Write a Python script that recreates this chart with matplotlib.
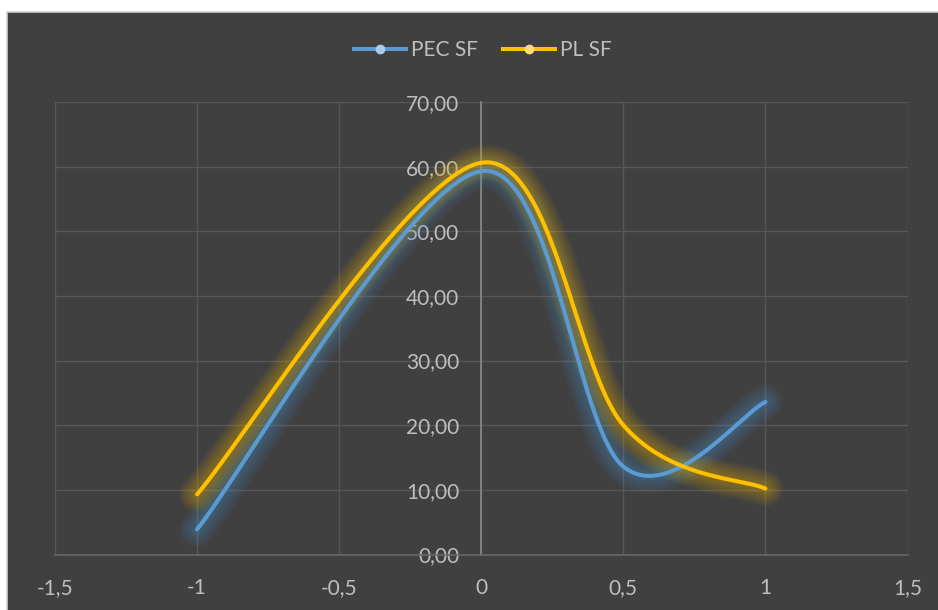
import matplotlib
matplotlib.use("Agg")
import matplotlib.pyplot as plt
from matplotlib.lines import Line2D
from matplotlib.patches import Rectangle
import numpy as np

plt.rcParams['font.family'] = ['Lato', 'DejaVu Sans']

x_vals = [-1, 0, 0.5, 1]
pec_sf = [3.9, 59.3, 13.6, 23.6]
pl_sf = [9.3, 60.6, 20.0, 10.2]

x_ticks = [-1.5, -1, -0.5, 0, 0.5, 1, 1.5]
x_tick_labels = ["-1,5", "-1", "-0,5", "0", "0,5", "1", "1,5"]
y_ticks = [0, 10, 20, 30, 40, 50, 60, 70]
y_tick_labels = [f"{v:.2f}".replace(".", ",") for v in y_ticks]

BG = "#404040"
TXT = "#bfbfbf"
BLUE = "#5b9bd5"
YELLOW = "#ffc000"


def smooth(xs, ys, n=80):
    # cubic bezier through the points, spreadsheet-style tangents
    pts = np.column_stack([xs, ys]).astype(float)
    padded = np.vstack([pts[0], pts, pts[-1]])
    t = np.linspace(0, 1, n)[:, None]
    out = []
    for i in range(len(pts) - 1):
        p0, p1, p2, p3 = padded[i], padded[i + 1], padded[i + 2], padded[i + 3]
        c1 = p1 + (p2 - p0) / 6
        c2 = p2 - (p3 - p1) / 6
        seg = ((1 - t) ** 3 * p1 + 3 * (1 - t) ** 2 * t * c1
               + 3 * (1 - t) * t ** 2 * c2 + t ** 3 * p2)
        out.append(seg if i == 0 else seg[1:])
    return np.vstack(out)


fig = plt.figure(figsize=(9.38, 6.10), dpi=100, facecolor="white")
fig.patches.append(Rectangle((7 / 938, -0.01), 1, (610 - 12) / 610 + 0.01,
                             transform=fig.transFigure, facecolor=BG,
                             edgecolor="#d0d0d0", linewidth=1.2, zorder=-10))

ax = fig.add_axes([55 / 938, 55.5 / 610, 852.5 / 938, 452.5 / 610])
ax.set_facecolor("none")
ax.set_zorder(1)

# soft glow: stacked translucent strokes under each line
for ys, color in [(pec_sf, BLUE), (pl_sf, YELLOW)]:
    curve = smooth(x_vals, ys)
    for k in range(14):
        ax.plot(curve[:, 0], curve[:, 1], color=color, alpha=0.03,
                lw=4 + k * 1.7, solid_capstyle="round", zorder=3)
    ax.plot(curve[:, 0], curve[:, 1], color=color, lw=2.9,
            solid_capstyle="round", zorder=4)

ax.set_xlim(-1.5, 1.5)
ax.set_ylim(0, 70)
ax.set_xticks(x_ticks)
ax.set_xticklabels(x_tick_labels)
ax.set_yticks(y_ticks)
ax.set_yticklabels(y_tick_labels)
ax.grid(True, color="#575757", lw=1.0, zorder=1)
ax.set_axisbelow(True)

for s in ["top", "right"]:
    ax.spines[s].set_visible(False)
ax.spines["left"].set_position(("data", 0))
ax.spines["left"].set_color("#8a8a8a")
ax.spines["left"].set_linewidth(1.2)
ax.spines["bottom"].set_color("#676767")
ax.spines["bottom"].set_linewidth(1.2)

ax.tick_params(axis="x", length=0, pad=17, labelsize=15, colors=TXT)
ax.tick_params(axis="y", length=0, pad=16, labelsize=15, colors=TXT)

handles = [
    Line2D([], [], color=BLUE, lw=2.9, marker="o", markersize=6,
           markerfacecolor="#a9cbec", markeredgecolor="#a9cbec"),
    Line2D([], [], color=YELLOW, lw=2.9, marker="o", markersize=6,
           markerfacecolor="#ffdc78", markeredgecolor="#ffdc78"),
]
fig.legend(handles, ["PEC SF", "PL SF"], loc="center",
           bbox_to_anchor=(483 / 938, 1 - 50 / 610), ncol=2, frameon=False,
           fontsize=15, labelcolor=TXT, handlelength=2.5,
           handletextpad=0.25, columnspacing=1.2)

fig.savefig("out.png", dpi=100, facecolor="white")
